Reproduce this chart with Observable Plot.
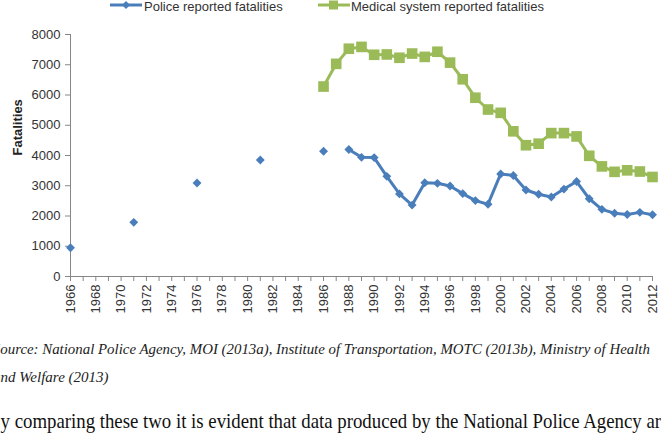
<!DOCTYPE html>
<html>
<head>
<meta charset="utf-8">
<script src="https://cdn.jsdelivr.net/npm/d3@7"></script>
<script src="https://cdn.jsdelivr.net/npm/@observablehq/plot@0.6"></script>
<style>
  html, body { margin: 0; padding: 0; background: #fff; }
  #page { position: relative; width: 661px; height: 444px; overflow: hidden; background: #fff; }
  .leg { position: absolute; top: 0; font: 13px "Liberation Sans", Arial, sans-serif; color: #333; line-height: 13px; white-space: nowrap; }
  .sw { position: absolute; top: -1px; }
  #chart { position: absolute; left: 0; top: 20px; }
  .src { position: absolute; font: italic 15px "Liberation Serif", "Times New Roman", serif; color: #222; white-space: nowrap; line-height: 15px; }
  .body { position: absolute; font: 21px "Liberation Serif", "Times New Roman", serif; color: #111; white-space: nowrap; line-height: 21px; }
</style>
</head>
<body>
<div id="page">
  <svg class="sw" style="left:110px" width="32" height="13"><line x1="0" y1="6" x2="32" y2="6" stroke="#4A7EBB" stroke-width="3"/><path d="M16,2 L20,6 L16,10 L12,6 Z" fill="#4A7EBB"/></svg>
  <div class="leg" style="left:144px">Police reported fatalities</div>
  <svg class="sw" style="left:318px" width="32" height="13"><line x1="0" y1="6" x2="32" y2="6" stroke="#9BBB59" stroke-width="3"/><rect x="11" y="1.5" width="9" height="9" fill="#9BBB59"/></svg>
  <div class="leg" style="left:351px">Medical system reported fatalities</div>
  <div id="chart"></div>
  <div class="src" id="src1" style="right:11px; top:342px;">Source: National Police Agency, MOI (2013a), Institute of Transportation, MOTC (2013b), Ministry of Health</div>
  <div class="src" style="left:-7px; top:370px;">and Welfare (2013)</div>
  <div class="body" id="body1" style="left:-12px; top:411px;"><span id="bodyA">By comparing these two it is evident that data produced by the National Police Agency ar</span>d</div>
</div>
<script>
const policeYears  = [1966, 1971, 1976, 1981, 1986, 1988, 1989, 1990, 1991, 1992, 1993, 1994, 1995, 1996, 1997, 1998, 1999, 2000, 2001, 2002, 2003, 2004, 2005, 2006, 2007, 2008, 2009, 2010, 2011, 2012];
const policeValues = [950, 1790, 3090, 3850, 4140, 4200, 3940, 3930, 3310, 2730, 2360, 3100, 3080, 2990, 2740, 2510, 2390, 3390, 3340, 2860, 2720, 2630, 2890, 3140, 2570, 2220, 2090, 2050, 2120, 2040];
const medicalYears  = [1986, 1987, 1988, 1989, 1990, 1991, 1992, 1993, 1994, 1995, 1996, 1997, 1998, 1999, 2000, 2001, 2002, 2003, 2004, 2005, 2006, 2007, 2008, 2009, 2010, 2011, 2012];
const medicalValues = [6280, 7030, 7530, 7590, 7330, 7340, 7230, 7370, 7260, 7430, 7070, 6520, 5910, 5520, 5410, 4800, 4340, 4390, 4740, 4740, 4630, 3990, 3640, 3460, 3510, 3470, 3290];
const xTickYears = d3.range(1966, 2013, 1);
const yTicks = [0, 1000, 2000, 3000, 4000, 5000, 6000, 7000, 8000];

function rows(years, values) {
  let seg = 0;
  return years.map((yr, i) => {
    if (i > 0 && yr - years[i - 1] > 1) seg++;
    return { year: yr, value: values[i], seg };
  });
}
const police = rows(policeYears, policeValues);
const medical = rows(medicalYears, medicalValues);

const BLUE = "#4A7EBB", GREEN = "#9BBB59", AXIS = "#868686";

const chart = Plot.plot({
  width: 661,
  height: 300,
  marginLeft: 70,
  marginRight: 9,
  marginTop: 14,
  marginBottom: 44,
  style: { fontFamily: "'Liberation Sans', Arial, sans-serif", fontSize: "13px", color: "#333", background: "white", overflow: "visible" },
  x: { domain: [1966, 2012] },
  y: { domain: [0, 8000] },
  marks: [
    Plot.axisY({ ticks: yTicks, tickSize: 5, tickPadding: 5, tickFormat: d => String(d), label: null, stroke: AXIS, fill: "#333" }),
    Plot.axisX({ ticks: xTickYears, tickSize: 5, tickPadding: 3, tickRotate: -90, tickFormat: d => (d % 2 === 0 ? String(d) : ""), label: null, stroke: AXIS, fill: "#333" }),
    Plot.ruleX([1966], { stroke: AXIS }),
    Plot.ruleY([0], { stroke: AXIS }),
    Plot.text(["Fatalities"], { frameAnchor: "left", rotate: -90, dx: -53, fontWeight: "bold", fontSize: 13, fill: "#222" }),
    Plot.line(medical, { x: "year", y: "value", z: "seg", stroke: GREEN, strokeWidth: 3 }),
    Plot.dot(medical, { x: "year", y: "value", symbol: "square", r: 6, fill: GREEN, stroke: "none" }),
    Plot.line(police, { x: "year", y: "value", z: "seg", stroke: BLUE, strokeWidth: 3 }),
    Plot.dot(police, { x: "year", y: "value", symbol: "diamond2", r: 4, fill: BLUE, stroke: "none" })
  ]
});
document.getElementById("chart").appendChild(chart);

// fit the source line to the reference's width (ends at x≈650, starts just left of the page)
const s1 = document.getElementById("src1");
const w = s1.getBoundingClientRect().width;
s1.style.transformOrigin = "right center";
s1.style.transform = `scaleX(${657 / w})`;

// fit the body line so that "…Agency ar" reaches the right edge as in the reference
const bA = document.getElementById("bodyA");
const wA = bA.getBoundingClientRect().width;
const b1 = document.getElementById("body1");
b1.style.transformOrigin = "left center";
b1.style.transform = `scaleX(${673 / wA})`;
</script>
</body>
</html>
